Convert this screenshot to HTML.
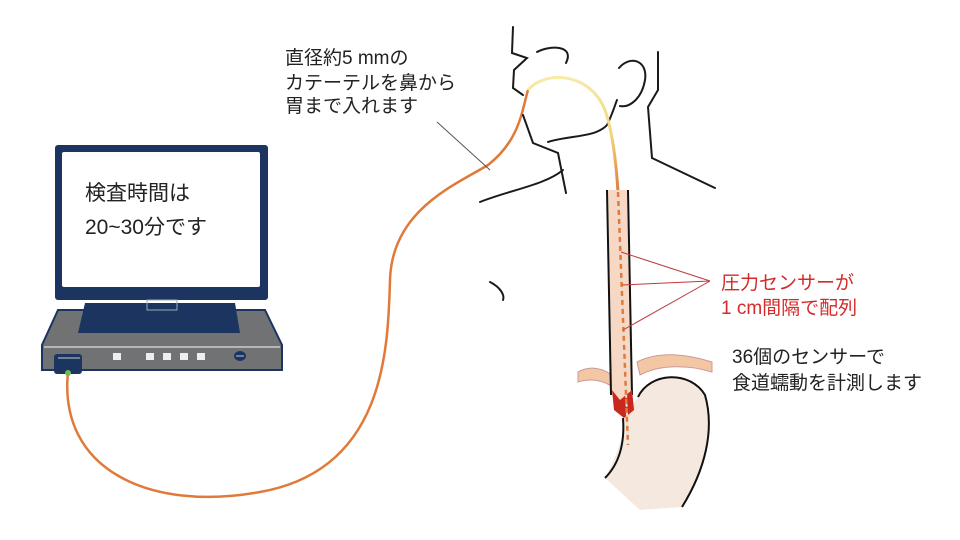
<!DOCTYPE html>
<html><head><meta charset="utf-8"><style>
html,body{margin:0;padding:0;background:#fff;}
svg{display:block;}
text{font-family:"Liberation Sans","Noto Sans CJK JP",sans-serif;}
</style></head><body>
<svg width="960" height="540" viewBox="0 0 960 540" xmlns="http://www.w3.org/2000/svg">
<defs>
<linearGradient id="tube" x1="0" y1="0" x2="0" y2="1">
<stop offset="0" stop-color="#f7eba8"/><stop offset="0.5" stop-color="#f1d57e"/><stop offset="1" stop-color="#e07a3a"/>
</linearGradient>
</defs>
<!-- cable -->
<path d="M68,372 C58,470 150,512 260,492 C385,470 388,350 390,280 C392,210 455,185 488,165 C520,140 522,110 528,90" fill="none" stroke="#e07a3a" stroke-width="2.5"/>
<line x1="437" y1="122" x2="490" y2="170" stroke="#555" stroke-width="1"/>
<!-- base -->
<polygon points="58,310 265,310 282,345 282,370 42,370 42,345" fill="#707274" stroke="#1b3560" stroke-width="2"/>
<polygon points="85,303 235,303 240,333 78,333" fill="#1b3560"/>
<line x1="44" y1="347" x2="280" y2="347" stroke="#ccc" stroke-width="1.5"/>
<rect x="113" y="353" width="8" height="7" fill="#eee"/>
<rect x="146" y="353" width="8" height="7" fill="#eee"/>
<rect x="163" y="353" width="8" height="7" fill="#eee"/>
<rect x="180" y="353" width="8" height="7" fill="#eee"/>
<rect x="197" y="353" width="8" height="7" fill="#eee"/>
<ellipse cx="240" cy="356" rx="6" ry="5" fill="#1b3560"/>
<line x1="236" y1="356" x2="244" y2="356" stroke="#ccc" stroke-width="1"/>
<rect x="54" y="354" width="28" height="20" rx="3" fill="#1b3560"/>
<line x1="58" y1="358" x2="80" y2="358" stroke="#ccc" stroke-width="1"/>
<circle cx="68" cy="373" r="3" fill="#6bbf4a"/>
<!-- monitor -->
<rect x="55" y="145" width="213" height="155" rx="3" fill="#1b3560"/>
<rect x="62" y="152" width="198" height="135" rx="2" fill="#fff"/>
<rect x="147" y="300" width="30" height="10" fill="none" stroke="#9ab" stroke-width="1"/>
<text x="85" y="200" font-size="21" fill="#222">検査時間は</text>
<text x="85" y="234" font-size="21" fill="#222">20~30分です</text>
<!-- head -->
<g fill="none" stroke="#1a1a1a" stroke-width="2" stroke-linecap="round">
<path d="M513,27 L512,53 L527,58 L514,70 L513,88 L523,95"/>
<path d="M537,52 C550,45 575,45 566,63"/>
<path d="M523,115 L533,143 L558,153 L566,193"/>
<path d="M548,142 C570,135 595,138 607,125 C612,115 615,105 617,100"/>
<path d="M619,68 C630,55 648,60 645,80 C642,98 630,108 620,106"/>
<path d="M658,52 L658,90 L648,107 L652,158 L715,188"/>
<path d="M480,202 C510,190 545,185 563,170"/>
<path d="M490,282 C500,287 505,295 503,300"/>
</g>
<!-- nasal tube -->
<path d="M528,90 C545,70 590,72 605,110 C612,130 616,160 618,192" fill="none" stroke="url(#tube)" stroke-width="3"/>
<!-- stomach -->
<path d="M638,397 C650,372 690,370 705,395 C715,430 705,470 682,507 L640,510 L605,478 C620,450 625,430 623,420 Z" fill="#f5e8de"/>
<path d="M638,397 C650,372 690,370 705,395 C715,430 705,470 682,507" fill="none" stroke="#111" stroke-width="2"/>
<path d="M623,418 C625,445 618,465 605,478" fill="none" stroke="#111" stroke-width="2"/>
<!-- diaphragm -->
<path d="M578,372 C590,365 605,368 615,378 L614,388 C604,380 590,378 578,382 Z" fill="#f3c6a4" stroke="#c99" stroke-width="1"/>
<path d="M637,362 C660,350 690,355 712,362 L712,372 C690,365 660,364 640,375 Z" fill="#f3c6a4" stroke="#c99" stroke-width="1"/>
<!-- esophagus -->
<path d="M608,190 L628,190 L631,390 L635,410 L625,420 L612,395 Z" fill="#f7d8c4"/>
<line x1="607" y1="190" x2="611" y2="395" stroke="#111" stroke-width="2"/>
<line x1="628" y1="190" x2="632" y2="395" stroke="#111" stroke-width="2"/>
<path d="M612,390 L620,400 L632,390 L634,410 L624,418 L614,410 Z" fill="#c8281e"/>
<line x1="618" y1="192" x2="628" y2="445" stroke="#e07a3a" stroke-width="2.5" stroke-dasharray="5,4"/>
<line x1="618" y1="196" x2="628" y2="440" stroke="#ddd" stroke-width="2" stroke-dasharray="3,6" stroke-dashoffset="-1"/>
<!-- red leaders -->
<g stroke="#c0393b" stroke-width="1">
<line x1="710" y1="281" x2="621" y2="252"/>
<line x1="710" y1="281" x2="622" y2="285"/>
<line x1="710" y1="281" x2="623" y2="330"/>
</g>
<!-- texts -->
<text x="285" y="64" font-size="19" fill="#222">直径約5 mmの</text>
<text x="285" y="89" font-size="19" fill="#222">カテーテルを鼻から</text>
<text x="285" y="112" font-size="19" fill="#222">胃まで入れます</text>
<text x="721" y="289" font-size="19" fill="#d42a2a">圧力センサーが</text>
<text x="721" y="314" font-size="19" fill="#d42a2a">1 cm間隔で配列</text>
<text x="732" y="363" font-size="19" fill="#222">36個のセンサーで</text>
<text x="732" y="389" font-size="19" fill="#222">食道蠕動を計測します</text>
</svg>
</body></html>
